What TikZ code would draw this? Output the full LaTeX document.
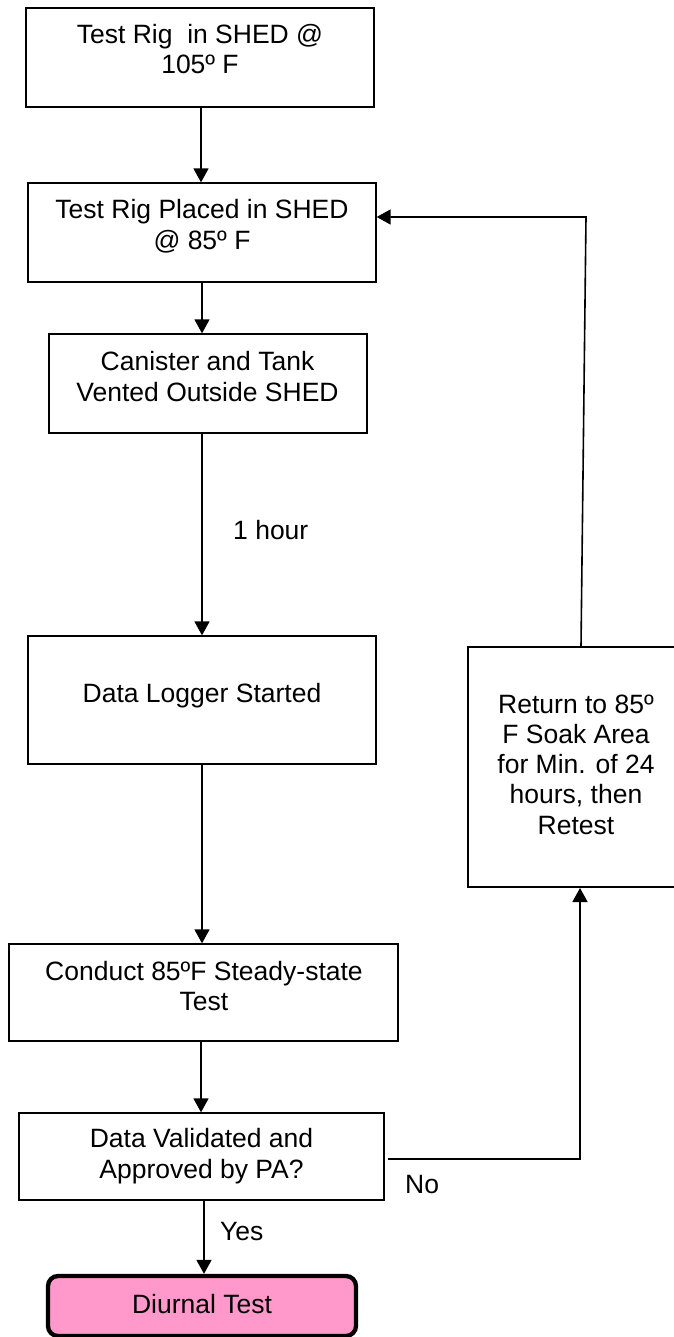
\documentclass[tikz,border=0pt]{standalone}
\usepackage{fontspec}
\setmainfont{Liberation Sans}
\usetikzlibrary{arrows.meta}
\definecolor{pinkfill}{HTML}{FF99CC}
\begin{document}
\begin{tikzpicture}[x=1pt,y=-1pt,
  box/.style={draw=black, line width=1.3pt, inner sep=0pt, fill=white},
  lbl/.style={inner sep=0pt, anchor=base, font=\fontsize{26.5}{30}\selectfont},
  lblw/.style={lbl, anchor=base west},
  arr/.style={line width=1.6pt, -{Triangle[width=15pt,length=14pt]}},
  link/.style={line width=1.6pt}]
\useasboundingbox (0,0) rectangle (673,1337);
% boxes
\node[box, minimum width=348pt, minimum height=99pt] (b1) at (200,57.5) {};
\node[box, minimum width=348pt, minimum height=99pt] (b2) at (202,232.5) {};
\node[box, minimum width=318pt, minimum height=99pt] (b3) at (208,383.5) {};
\node[box, minimum width=348pt, minimum height=128pt] (b4) at (202,700) {};
\node[box, minimum width=389pt, minimum height=97pt] (b5) at (203.5,992.5) {};
\node[box, minimum width=365pt, minimum height=87pt] (b6) at (201.5,1156.5) {};
\node[box, line width=2pt, minimum width=216pt, minimum height=240pt] (b7) at (576,767) {};
\node[draw=black, line width=4.3pt, fill=pinkfill, rounded corners=10pt, inner sep=0pt,
      minimum width=308pt, minimum height=60pt] (b8) at (202,1306) {};
% texts
\node[lbl] (t1a) at (200,44) {Test Rig\ \ in SHED @};
\node[lbl] (t1b) at (200,74) {105º F};
\node[lbl] (t2a) at (202,219) {Test Rig Placed in SHED};
\node[lbl] (t2b) at (202,250) {@ 85º F};
\node[lbl] (t3a) at (207.5,370) {Canister and Tank};
\node[lbl] (t3b) at (207.5,401) {Vented Outside SHED};
\node[lblw] (th) at (233,539) {1 hour};
\node[lbl] (t4) at (202,702) {Data Logger Started};
\node[lbl] (t5a) at (204,980) {Conduct 85ºF Steady-state};
\node[lbl] (t5b) at (204,1010) {Test};
\node[lbl] (t6a) at (201.5,1147) {Data Validated and};
\node[lbl] (t6b) at (201.5,1178) {Approved by PA?};
\node[lblw] (tyes) at (220,1240) {Yes};
\node[lblw] (tno) at (405,1193) {No};
\node[lbl] (t7a) at (576,713) {Return to 85º};
\node[lbl] (t7b) at (576,743) {F Soak Area};
\node[lbl] (t7c) at (576,773) {for Min. of 24};
\node[lbl] (t7d) at (576,803) {hours, then};
\node[lbl] (t7e) at (576,834) {Retest};
\node[lbl] (t8) at (202,1313) {Diurnal Test};
% connectors
\draw[arr] ([xshift=1pt]b1.south) -- ([xshift=1pt]b1.south |- b2.north);
\draw[arr] (b2.south) -- (b2.south |- b3.north);
\draw[arr] ([xshift=-6pt]b3.south) -- ([xshift=-6pt]b3.south |- b4.north);
\draw[arr] (b4.south) -- (b4.south |- b5.north);
\draw[arr] ([xshift=-2.5pt]b5.south) -- ([xshift=-2.5pt]b5.south |- b6.north);
\draw[arr] ([xshift=2.5pt]b6.south) -- ([xshift=2.5pt]b6.south |- b8.north);
\draw[arr] ([xshift=3pt,yshift=-2.5pt]b6.east) -| ([xshift=4pt]b7.south);
\coordinate (rc) at (586,217);
\draw[arr] ([xshift=5pt]b7.north) -- (rc) -- (rc -| b2.east);
\end{tikzpicture}
\end{document}
